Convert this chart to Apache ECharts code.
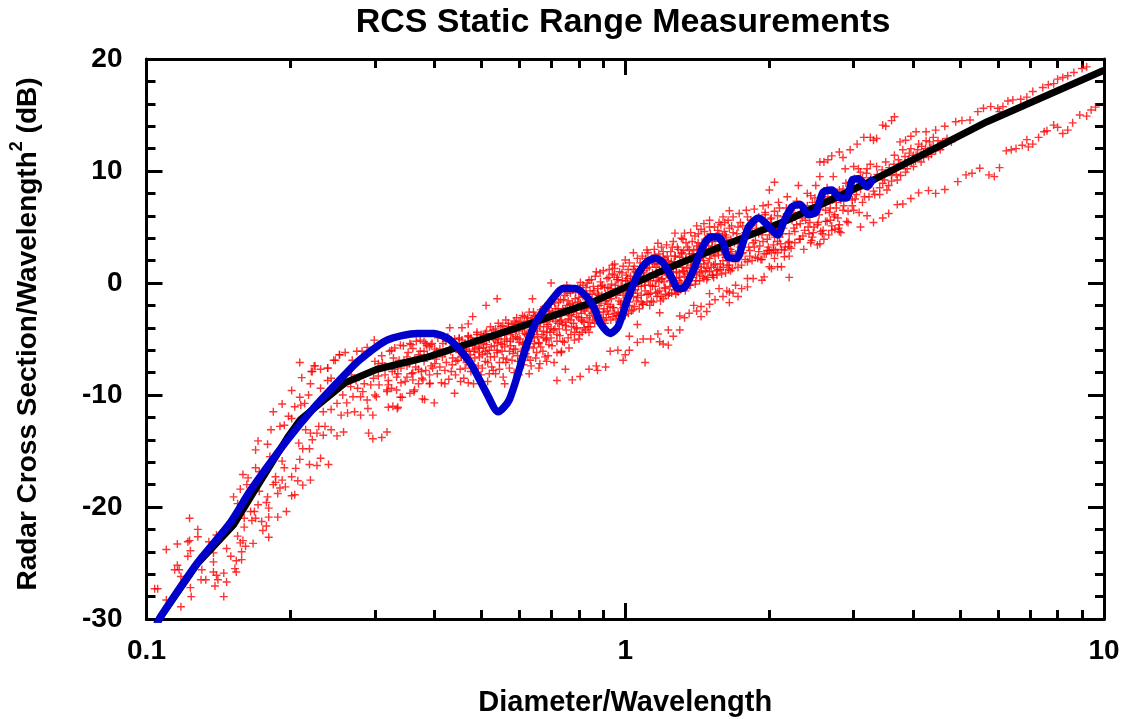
<!DOCTYPE html>
<html>
<head>
<meta charset="utf-8">
<title>RCS Static Range Measurements</title>
<script src="https://cdn.jsdelivr.net/npm/echarts@6/dist/echarts.min.js"></script>
<style>
  html, body { margin: 0; padding: 0; background: #fff; }
  #chart { width: 1123px; height: 719px; }
</style>
</head>
<body>
<div id="chart"></div>
<script>
// values: [diameter/wavelength, dB]
const blackCurve = [[0.105,-30.5],[0.107,-29.8],[0.128,-25],[0.152,-21.6],[0.167,-18.75],[0.197,-13.8],[0.2096,-12.2],[0.26,-8.9],[0.303,-7.7],[0.388,-6.6],[0.634,-3.6],[0.845,-1.8],[1.24,1.4],[1.66,3.6],[2.18,5.6],[3.3,9.2],[5.7,14.4],[10,19]];
const blueCurve = [[0.105,-30.5],[0.107,-29.8],[0.1277,-25],[0.1496,-21.4],[0.165,-18.5],[0.197,-14],[0.223,-11.2],[0.262,-8],[0.28,-6.8],[0.318,-5.1],[0.368,-4.5],[0.398,-4.5],[0.431,-5.1],[0.474,-7.1],[0.51,-9.6],[0.543,-11.5],[0.573,-10.4],[0.624,-5.4],[0.655,-3.3],[0.721,-0.9],[0.743,-0.5],[0.787,-0.5],[0.833,-1.3],[0.865,-2.4],[0.887,-3.6],[0.93,-4.5],[0.966,-3.9],[1.01,-1.5],[1.06,0.7],[1.11,1.9],[1.156,2.2],[1.2,1.8],[1.25,0.5],[1.29,-0.5],[1.33,-0.4],[1.39,1.2],[1.45,3.2],[1.51,4.1],[1.56,4.1],[1.6,3.6],[1.64,2.3],[1.71,2.2],[1.75,3.2],[1.81,5],[1.9,5.8],[1.98,5.2],[2.08,4.3],[2.14,5.4],[2.23,6.8],[2.32,7],[2.41,6.1],[2.5,6.3],[2.59,8.1],[2.7,8.3],[2.81,7.6],[2.9,7.6],[2.98,9.2],[3.07,9.3],[3.2,8.6],[3.3,9.4]];

const scatterLowEnd = [[0.104,-27.3],[0.1055,-27.3],[0.11,-23.8],[0.116,-23.3],[0.1145,-25.6],[0.116,-25.2],[0.117,-25.6],[0.118,-26.2],[0.118,-28.9],[0.11,-28.3],[0.123,-21],[0.122,-23.1],[0.123,-23],[0.1235,-23.9],[0.122,-24.4],[0.128,-22],[0.128,-22.65],[0.135,-23.1],[0.131,-24.3],[0.1235,-27.2],[0.124,-28],[0.1305,-25.6],[0.13,-26.5],[0.133,-26.5],[0.138,-25.8],[0.14,-26.1],[0.138,-24.9],[0.138,-24.1],[0.141,-26.5],[0.139,-27.05],[0.145,-25.9],[0.147,-26.7],[0.145,-28],[0.14,-22.5],[0.147,-23.7],[0.15,-24.4],[0.154,-24.8],[0.153,-25.5],[0.154,-25.8],[0.155,-22.6],[0.158,-24.7],[0.158,-24],[0.157,-23.2],[0.159,-23],[0.161,-23.5],[0.167,-23.25],[0.18,-22.7]];
const scatterRise = [[0.152,-19.1],[0.155,-19.7],[0.157,-18.4],[0.159,-17.1],[0.163,-17.4],[0.162,-18],[0.16,-21],[0.16,-21.8],[0.165,-20.4],[0.168,-20.4],[0.166,-21.2],[0.169,-21],[0.174,-21.3],[0.175,-22.1],[0.178,-21.7],[0.171,-19.8],[0.179,-19.1],[0.178,-19.6],[0.18,-20.1],[0.18,-20.9],[0.188,-20.9],[0.196,-20.4],[0.172,-18.6],[0.169,-16.5],[0.172,-16.85],[0.186,-17.3],[0.184,-18],[0.186,-17.8],[0.192,-17.6],[0.19,-18.3],[0.188,-18.8],[0.195,-18.2],[0.201,-17.3],[0.207,-17.65],[0.212,-18.05],[0.22,-17.6],[0.201,-19],[0.204,-18.9],[0.194,-16.5],[0.205,-16.55],[0.219,-16.2],[0.227,-16.3],[0.24,-16.2],[0.231,-15.65],[0.209,-15.75],[0.192,-15.9],[0.181,-15.5],[0.169,-14.9],[0.171,-14.1],[0.179,-14.4],[0.182,-13.1],[0.19,-12.8],[0.194,-12.7],[0.184,-11.5],[0.192,-10.8],[0.201,-9.6]];
const scatterKnee = [[0.209,-7.1],[0.211,-8.45],[0.204,-11.05],[0.21,-10.9],[0.214,-10.75],[0.218,-10],[0.221,-7.9],[0.224,-7.4],[0.231,-7.7],[0.239,-7.6],[0.248,-6.9],[0.253,-6.4],[0.26,-6.2],[0.22,-9],[0.231,-9.4],[0.239,-8.7],[0.243,-8.5],[0.209,-10.2],[0.198,-11.9],[0.201,-12.1],[0.208,-14.3],[0.212,-14.8],[0.219,-14.8],[0.222,-14],[0.227,-13.4],[0.229,-12.8],[0.22,-13.4],[0.234,-13.6],[0.243,-13.1],[0.258,-13.3],[0.25,-13.65],[0.236,-12.8],[0.215,-13.1],[0.234,-11.5],[0.243,-11.3],[0.255,-11.8],[0.263,-11.6],[0.272,-11.5],[0.28,-11.8],[0.29,-11.2],[0.297,-11.8],[0.32,-11.1],[0.334,-11.2],[0.291,-13.4],[0.297,-13.9],[0.31,-13.8],[0.318,-13.3],[0.25,-10.75],[0.257,-10],[0.27,-10.15],[0.28,-10.15],[0.289,-10.45],[0.267,-9.25],[0.276,-9.4],[0.285,-9],[0.302,-10.15],[0.318,-9.7],[0.333,-9.55],[0.342,-10.2],[0.362,-9.7],[0.381,-10.4],[0.37,-9],[0.36,-8.65],[0.383,-7.8],[0.39,-9],[0.298,-8.5],[0.306,-9.1],[0.32,-9.1],[0.35,-8.4],[0.335,-8.1],[0.225,-7.4],[0.222,-7.9],[0.239,-7.6],[0.246,-6.9],[0.253,-6.4],[0.269,-6.9],[0.275,-6.1],[0.282,-6.1],[0.289,-5.75],[0.299,-5.1],[0.311,-7.15],[0.305,-7.2],[0.328,-6.7],[0.355,-5.4],[0.373,-5.1],[0.38,-5.25],[0.39,-5.7],[0.404,-6.1],[0.36,-5.85],[0.339,-5.55],[0.325,-6],[0.339,-10.2],[0.355,-9.85],[0.325,-9.4],[0.318,-9.55],[0.363,-9.55],[0.377,-10.35],[0.391,-8.95],[0.399,-10.7],[0.378,-8.65],[0.35,-7.4],[0.327,-11],[0.335,-11.1],[0.3,-10],[0.315,-8.2],[0.345,-7],[0.352,-6.2],[0.365,-7.5],[0.37,-6.4],[0.375,-7.9],[0.385,-5.6],[0.33,-7.7],[0.34,-8.9],[0.358,-8.1],[0.393,-7.4],[0.38,-6.1],[0.235,-10.2],[0.245,-9.6],[0.252,-8.8],[0.262,-10.7],[0.268,-8.2],[0.274,-8.7],[0.283,-9.7],[0.294,-9.1],[0.3,-7],[0.305,-8.3],[0.31,-6.5],[0.315,-7.4],[0.32,-8.7],[0.322,-6.1],[0.326,-7.9],[0.33,-5.8],[0.333,-8.4],[0.337,-6.9],[0.34,-7.6],[0.344,-5.6],[0.347,-8.8],[0.35,-6.6],[0.354,-7.2],[0.357,-5.5],[0.36,-8],[0.363,-6.8],[0.366,-5.2],[0.37,-7.7],[0.373,-6.1],[0.376,-8.5],[0.38,-7],[0.383,-5.4],[0.386,-6.4],[0.39,-8.2],[0.393,-5.5],[0.396,-7.6]];
const scatterBandLow = [[0.395,-5.4],[0.4,-7.2],[0.405,-8.1],[0.41,-5.9],[0.415,-6.6],[0.42,-7.8],[0.422,-5.2],[0.428,-8.6],[0.432,-6.1],[0.435,-7.3],[0.44,-5.6],[0.442,-8.2],[0.447,-6.9],[0.45,-4.9],[0.452,-7.7],[0.456,-6.3],[0.46,-8.5],[0.463,-5.4],[0.466,-7.1],[0.47,-4.7],[0.472,-6.1],[0.476,-7.9],[0.48,-5.6],[0.482,-9],[0.485,-6.7],[0.49,-4.4],[0.493,-7.4],[0.496,-5.8],[0.5,-8.2],[0.503,-6.4],[0.506,-4.7],[0.51,-7],[0.513,-5.5],[0.516,-8.8],[0.52,-6],[0.523,-3.9],[0.526,-7.5],[0.53,-4.9],[0.533,-6.6],[0.536,-8.1],[0.54,-5.3],[0.543,-3.6],[0.546,-7.1],[0.55,-4.6],[0.553,-6.1],[0.556,-8.4],[0.56,-5],[0.563,-3.3],[0.566,-6.8],[0.57,-4.2],[0.573,-7.6],[0.576,-5.6],[0.58,-3.7],[0.583,-6.3],[0.586,-8],[0.59,-4.8],[0.593,-3.1],[0.596,-7],[0.6,-5.3],[0.603,-3.9],[0.606,-6.1],[0.61,-2.9],[0.613,-7.3],[0.616,-4.5],[0.62,-5.7],[0.623,-3.4],[0.626,-6.6],[0.63,-2.6],[0.633,-4.9],[0.636,-7.4],[0.64,-3.9],[0.643,-5.8],[0.646,-2.9],[0.65,-6.7],[0.653,-4.3],[0.656,-3.2],[0.66,-5.3],[0.663,-7.2],[0.666,-2.4],[0.67,-4.6],[0.673,-6.1],[0.676,-3.5],[0.68,-2.1],[0.683,-5.1],[0.686,-3.9],[0.69,-6.5],[0.693,-2.7],[0.696,-4.4],[0.7,-1.9],[0.703,-5.6],[0.706,-3.2],[0.71,-7.1],[0.713,-4.1],[0.716,-2.3],[0.72,-5.2],[0.723,-3.6],[0.43,-4],[0.456,-4],[0.47,-3.65],[0.48,-3],[0.512,-2],[0.54,-1.4],[0.64,-1.4],[0.7,0],[0.755,-0.2],[0.806,0.05],[0.84,0.25]];
const scatterBandLowFill = [[0.4,-5.9],[0.403,-6.8],[0.406,-4.9],[0.41,-7.5],[0.413,-8.9],[0.416,-5.4],[0.42,-6.3],[0.423,-7.1],[0.426,-4.8],[0.43,-5.9],[0.433,-7.9],[0.436,-6.7],[0.44,-5],[0.443,-7],[0.446,-5.7],[0.45,-6.2],[0.453,-8.8],[0.456,-5.1],[0.46,-6.7],[0.463,-7.6],[0.466,-5.9],[0.47,-5.3],[0.473,-6.9],[0.476,-4.9],[0.48,-7.3],[0.483,-6.1],[0.486,-5.2],[0.49,-8],[0.493,-5.7],[0.496,-6.6],[0.5,-4.6],[0.503,-7.6],[0.506,-5.4],[0.51,-6.1],[0.513,-4.3],[0.516,-7.1],[0.52,-5],[0.523,-6.6],[0.526,-4.6],[0.53,-7.8],[0.533,-5.6],[0.536,-4.1],[0.54,-6.2],[0.543,-5],[0.546,-7.7],[0.55,-3.9],[0.553,-5.5],[0.556,-6.7],[0.56,-4.4],[0.563,-7.1],[0.566,-5.2],[0.57,-3.6],[0.573,-6.1],[0.576,-4.6],[0.58,-6.9],[0.583,-5],[0.586,-3.4],[0.59,-5.9],[0.593,-4.2],[0.596,-6.5],[0.6,-3.5],[0.603,-5],[0.606,-7],[0.61,-4.1],[0.613,-5.5],[0.616,-3],[0.62,-6.3],[0.623,-4.6],[0.626,-3.7],[0.63,-5.2],[0.633,-6.9],[0.636,-3.2],[0.64,-4.6],[0.643,-2.6],[0.646,-5.4],[0.65,-3.6],[0.653,-6.2],[0.656,-4.8],[0.66,-2.9],[0.663,-3.9],[0.666,-5.7],[0.67,-3.3],[0.673,-2.3],[0.676,-4.9],[0.68,-6.6],[0.683,-3.1],[0.686,-4.4],[0.69,-2.2],[0.693,-5.5],[0.696,-3.4],[0.7,-4.9],[0.704,-2.6],[0.708,-4.2],[0.712,-1.8],[0.716,-3.4],[0.72,-6.2],[0.724,-2.3],[0.728,-4.1],[0.732,-1.5],[0.736,-3.3],[0.74,-5.2],[0.744,-2.5],[0.748,-1.1],[0.752,-3.5],[0.756,-2],[0.76,-4.9],[0.764,-2.9],[0.768,-0.9],[0.772,-3.9],[0.776,-1.8],[0.78,-2.6],[0.784,-4.4],[0.788,-0.8],[0.792,-3],[0.796,-1.7],[0.8,-5],[0.804,-0.6],[0.808,-2.4],[0.812,-3.4],[0.816,-1.2],[0.82,-4],[0.824,-2.5],[0.828,-0.4],[0.832,-3.1],[0.836,-1.2],[0.84,-4.4],[0.844,-0.7],[0.848,-2.3]];
const scatterBandCoreLow = [[0.45,-5],[0.455,-6.6],[0.46,-5.6],[0.465,-6.1],[0.47,-4.8],[0.475,-6.4],[0.48,-5.2],[0.485,-5.9],[0.49,-4.6],[0.495,-6.2],[0.5,-5.3],[0.505,-5.8],[0.51,-4.5],[0.515,-6.3],[0.52,-4.9],[0.525,-5.7],[0.53,-4.2],[0.535,-5.1],[0.54,-6],[0.545,-4.6],[0.55,-5.4],[0.555,-3.8],[0.56,-5.7],[0.565,-4.5],[0.57,-3.9],[0.575,-5.2],[0.58,-4.4],[0.585,-5.9],[0.59,-3.6],[0.595,-4.9],[0.6,-4.3],[0.605,-3.4],[0.61,-5.4],[0.615,-3.9],[0.62,-4.6],[0.625,-3.1],[0.63,-5.7],[0.635,-4.2],[0.64,-3.4],[0.645,-4.9],[0.65,-3],[0.655,-4.1],[0.66,-5.4],[0.665,-3.5],[0.67,-2.7],[0.675,-4.3],[0.68,-3.1],[0.685,-5],[0.69,-3.7],[0.695,-2.5],[0.7,-4.1],[0.71,-2.8],[0.72,-4.6],[0.73,-3.4],[0.74,-2.3],[0.75,-3.8],[0.76,-1.6],[0.77,-3.3],[0.78,-2.1],[0.79,-4],[0.8,-1.3],[0.81,-3.3],[0.82,-2.3],[0.83,-1],[0.84,-3.5],[0.85,-2.2]];
const scatterBandMid = [[0.726,-1.7],[0.73,-4.7],[0.733,-2.9],[0.736,-6.1],[0.74,-3.7],[0.743,-1.5],[0.746,-5.3],[0.75,-2.4],[0.753,-4.2],[0.756,-0.9],[0.76,-3.2],[0.763,-5.8],[0.766,-1.9],[0.77,-4.6],[0.773,-2.8],[0.776,-0.6],[0.78,-3.6],[0.783,-5.1],[0.786,-1.4],[0.79,-2.3],[0.793,-4.1],[0.796,-0.4],[0.8,-3.1],[0.803,-4.6],[0.806,-1.8],[0.81,-2.7],[0.813,-4.4],[0.816,-0.2],[0.82,-3.5],[0.823,-1.2],[0.826,-4.2],[0.83,-2.2],[0.833,0],[0.836,-3.9],[0.84,-1.6],[0.843,-2.9],[0.846,-3.9],[0.85,0.3],[0.853,-1],[0.856,-3.3],[0.86,-2.1],[0.863,-3.6],[0.866,0.6],[0.87,-1.4],[0.873,-3.2],[0.876,-0.5],[0.88,-2.6],[0.883,-3.4],[0.886,0.9],[0.89,-1.8],[0.893,-3.1],[0.896,-0.2],[0.9,1.1],[0.903,-2.3],[0.906,-3.6],[0.91,-1],[0.913,-3.1],[0.916,0.4],[0.92,-1.9],[0.923,-2.8],[0.926,1.2],[0.93,-0.5],[0.933,-3.3],[0.936,-1.4],[0.94,0.8],[0.943,-3],[0.946,-2.2],[0.95,1.3],[0.953,-0.2],[0.956,-3.2],[0.96,-1.1],[0.963,0.5],[0.966,-2.6],[0.97,-2.9],[0.973,1],[0.976,-0.7],[0.98,-1.7],[0.983,-2.8],[0.986,0.2],[0.99,1.5],[0.993,-2.3],[0.996,-0.4],[1,-2.9],[1.005,0.7],[1.01,-1.3],[1.015,-2.7],[1.02,1.8],[1.025,0.1],[1.03,-2.5],[1.035,-0.9],[1.04,1.2],[1.045,-2.1],[1.05,0.4],[1.055,-1.6],[1.06,2.2],[1.065,-0.3],[1.07,-2.3],[1.075,1],[1.08,-1.1],[1.085,2.4],[1.09,-1.9],[1.095,0.6],[1.1,-0.7],[1.105,1.6],[1.11,-1.7],[1.115,2.7],[1.12,0.2],[1.125,-2],[1.13,-0.9],[1.135,2.1],[1.14,0.9],[1.145,-1.7],[1.15,3],[1.155,-0.3],[1.16,1.4],[1.165,-1.2],[1.17,0.5],[1.175,2.6],[1.18,-0.7],[1.185,-1.6],[1.19,3.2],[1.195,1.1],[1.2,-1.4],[1.205,0.1],[1.21,2.1],[1.215,-1],[1.22,3.4],[1.225,0.7],[1.23,-1.1],[1.235,1.6],[1.24,-0.3],[1.245,2.8],[1.25,-0.9],[1.255,0.3],[1.26,3.7],[1.265,1.9],[1.27,-0.6],[1.275,-1],[1.28,1],[1.285,3.2],[1.29,-0.8],[1.295,0.2],[1.3,2.3],[1.305,-0.6],[1.31,4],[1.315,1.4],[1.32,-0.4],[1.325,2.9],[1.33,0.6],[1.335,-0.7],[1.34,3.6],[1.345,0.1],[1.35,1.9],[1.36,-0.2],[1.37,4.5],[1.38,2.6],[1.39,0.8],[1.4,-0.1],[1.41,3.3],[1.42,1.5],[1.43,0.2],[1.44,4.8],[1.45,2.3],[1.46,0.4],[1.47,3.9],[1.48,0.3],[1.49,1.8],[1.5,5],[1.51,3],[1.52,0.7],[1.53,0.5],[1.54,2.4],[1.55,4.2],[1.56,1.2],[1.57,5.4],[1.58,3.4],[1.59,0.8],[1.6,2],[1.61,4.6],[1.62,0.9],[1.63,3.1],[1.64,5.6],[1.65,1.6],[1.66,1.1],[1.67,2.8],[0.87,1],[0.94,1.6],[0.95,1.7],[1,2.05],[1.04,2.7],[1.11,2.95],[1.17,3.55],[1.27,4.45],[1.33,4.45],[1.41,5.1],[1.46,5.3],[1.5,5.6],[1.6,5.9],[1.65,6.45]];
const scatterBandMidFill = [[0.852,-2.7],[0.858,-0.3],[0.864,-1.7],[0.87,-3.1],[0.876,-0.9],[0.882,-2],[0.888,0.1],[0.894,-1.1],[0.9,-3.3],[0.906,-0.4],[0.912,-1.6],[0.918,-2.5],[0.924,0.5],[0.93,-1.2],[0.936,-0.1],[0.942,-2.2],[0.948,0.7],[0.954,-1],[0.96,-2.9],[0.966,0.3],[0.972,-0.6],[0.978,-1.9],[0.984,0.9],[0.99,-1.1],[0.996,-2.8],[1.002,0.2],[1.008,-0.6],[1.014,1.2],[1.02,-1.7],[1.026,0.6],[1.032,-0.2],[1.038,-2.4],[1.044,1.5],[1.05,-0.6],[1.056,0.9],[1.062,-1.3],[1.068,0.2],[1.074,1.8],[1.08,-0.3],[1.086,-1.9],[1.092,1.1],[1.098,0.1],[1.104,2.2],[1.11,-1],[1.116,0.5],[1.122,1.4],[1.128,-0.2],[1.134,-1.6],[1.14,1.8],[1.146,0.5],[1.152,2.5],[1.158,-0.9],[1.164,0.9],[1.17,1.7],[1.176,0.1],[1.182,2.2],[1.188,-1.2],[1.194,0.4],[1.2,2.8],[1.206,1.3],[1.212,-0.4],[1.218,0.8],[1.224,2.4],[1.23,1.1],[1.236,-0.9],[1.242,0.5],[1.248,1.9],[1.254,3.2],[1.26,0.9],[1.266,-0.3],[1.272,2.4],[1.278,1.4],[1.284,-0.7],[1.29,3],[1.296,0.9],[1.302,1.7],[1.308,0],[1.314,2.7],[1.32,3.9],[1.326,1],[1.332,-0.4],[1.338,2.1],[1.344,1.3],[1.35,3.2],[1.356,0.5],[1.362,2.6],[1.368,-0.2],[1.374,1.6],[1.38,3.7],[1.386,1.2],[1.392,2.2],[1.398,4.2],[1.404,0.2],[1.41,1.9],[1.416,3],[1.422,4.4],[1.428,0.9],[1.434,2.5],[1.44,1.4],[1.446,3.5],[1.452,0.6],[1.458,2],[1.464,4.6],[1.47,1.1],[1.476,2.9],[1.482,4],[1.488,0.5],[1.494,3.3],[1.5,2.2],[1.506,4.4],[1.512,1.4],[1.518,3.7],[1.524,0.7],[1.53,2.7],[1.536,5],[1.542,1.7],[1.548,3.1],[1.554,0.7],[1.56,4.7],[1.566,2.5],[1.572,3.7],[1.578,1.2],[1.584,5.2],[1.59,2.9],[1.596,4.2],[1.602,1.4],[1.608,3.4],[1.614,5.4],[1.62,2.3],[1.626,4.1],[1.632,1.6],[1.638,3.5],[1.644,1.2],[1.65,4.9],[1.656,2.4],[1.662,3.9],[1.668,5.1],[1.674,1.3]];
const scatterBandCoreMid = [[0.86,-0.7],[0.87,-2.5],[0.88,-1.1],[0.89,-0.3],[0.9,-2.6],[0.91,-1.6],[0.92,-0.4],[0.93,-2.1],[0.94,-0.9],[0.95,-2.7],[0.96,0.3],[0.97,-1.6],[0.98,-0.3],[0.99,-2.2],[1,-0.9],[1.01,0.4],[1.02,-2],[1.03,-0.4],[1.04,-1.2],[1.05,1],[1.06,-0.9],[1.07,0.3],[1.08,-1.7],[1.09,0.9],[1.1,-0.2],[1.11,1.3],[1.12,-1],[1.13,0.6],[1.14,-0.3],[1.15,1.7],[1.16,0.2],[1.17,-0.8],[1.18,1.2],[1.19,0.3],[1.2,2.3],[1.21,-0.5],[1.22,0.9],[1.23,2],[1.24,0.2],[1.25,1.3],[1.26,-0.2],[1.27,2.4],[1.28,0.4],[1.29,1.7],[1.3,0.5],[1.31,2.6],[1.32,1.1],[1.33,-0.1],[1.34,2.2],[1.35,0.8],[1.36,3],[1.37,1.4],[1.38,0.5],[1.39,2.9],[1.4,1.8],[1.41,0.7],[1.42,3.6],[1.43,2.2],[1.44,1],[1.45,3.4],[1.46,1.7],[1.47,2.7],[1.48,1.3],[1.49,4.1],[1.5,1],[1.51,2.5],[1.52,3.7],[1.53,1.6],[1.54,3.2],[1.55,1.1],[1.56,2.9],[1.57,4.4],[1.58,1.7],[1.59,3.8],[1.6,2.8],[1.62,4.3],[1.64,2],[1.66,3],[1.68,4.5],[1.7,1.9],[1.72,3.5],[1.74,5.4],[1.76,2.7],[1.78,4],[1.8,5.9],[1.82,2.4],[1.84,4.4],[1.86,3.2],[1.88,5.7],[1.9,2.8],[1.92,4.7],[1.94,3.7],[1.96,6.3],[1.98,2.9],[2,4.3],[2.02,5.8],[2.04,3],[2.06,4.8],[2.08,3.7],[2.1,6.7],[2.13,4.4],[2.16,5.4],[2.19,3.6],[2.22,6.5],[2.25,4.9],[2.28,7.3],[2.31,3.9],[2.34,5.8],[2.37,4.7],[2.4,6.9],[2.43,5.4],[2.46,4.1],[2.49,7.6],[2.52,5.2],[2.55,6.6],[2.58,4.4],[2.61,7.2],[2.64,5.5],[2.67,6.3],[2.7,8],[2.73,5.9],[2.76,6.7],[2.79,4.9],[2.82,7.4],[2.85,8.4]];
const scatterBandHigh = [[1.68,5.9],[1.7,2.6],[1.71,4.4],[1.72,1.4],[1.73,6.2],[1.74,3.2],[1.75,1.6],[1.76,5.1],[1.77,3.9],[1.78,2.1],[1.79,6.5],[1.8,1.9],[1.81,4.6],[1.82,2.9],[1.83,5.6],[1.84,2],[1.85,3.6],[1.86,6.6],[1.87,2.3],[1.88,4.9],[1.89,2.2],[1.9,5.9],[1.91,3.3],[1.92,2.1],[1.93,4.3],[1.94,6.9],[1.95,2.6],[1.96,5.3],[1.97,2.6],[1.98,3.9],[1.99,7],[2,2.9],[2.01,5.7],[2.02,2.7],[2.03,4.6],[2.04,3.4],[2.05,6.4],[2.06,2.9],[2.07,5],[2.08,2.7],[2.09,7.2],[2.1,4.1],[2.12,3],[2.14,5.9],[2.16,3.2],[2.18,7.7],[2.2,4.4],[2.22,3.1],[2.24,6.3],[2.26,3.6],[2.28,5.2],[2.3,8.7],[2.32,3.9],[2.34,6.9],[2.36,3],[2.38,5.6],[2.4,8],[2.42,4.4],[2.44,3.6],[2.46,7.2],[2.48,5],[2.5,8.7],[2.52,3.4],[2.54,6.1],[2.56,4.6],[2.58,7.6],[2.6,3.9],[2.62,5.5],[2.64,8.5],[2.66,4.3],[2.68,6.7],[2.7,5.1],[2.72,9.5],[2.74,4.8],[2.76,7.2],[2.78,5.8],[2.8,8.3],[2.82,4.5],[2.85,6.5],[2.88,10.2],[2.9,7.8],[2.92,5.4],[2.95,9],[2.98,6.9],[3,10.4],[3.02,7.5],[3.05,8.6],[3.08,6.3],[3.1,9.9],[3.13,7.2],[3.16,8.9],[3.2,10.2],[3.23,7.7],[3.26,9.4],[3.3,8.2],[3.35,10.4],[3.4,7.9],[3.45,8.9],[3.5,10.8],[3.55,8.7],[3.6,9.6],[3.65,11.4],[3.7,9.2],[3.75,10.6],[3.8,11.9],[3.85,9.9],[3.9,11],[3.95,12],[4,10.4],[4.05,11.4],[4.1,12.4],[4.15,10.8],[4.2,11.7],[4.25,12.7],[4.3,11.3],[4.35,12.1],[4.4,13],[4.5,12.2],[4.55,11.9],[4.6,12.6],[4.7,12.9],[4.8,12.6],[2.05,9],[2,8.3],[2.55,9.5],[3,6.5],[2.9,5.5],[2.8,4.6],[2.7,4.7],[2.55,3.5],[2.45,3.8]];
const scatterBandHighFill = [[1.69,3.6],[1.72,5],[1.75,2.6],[1.78,4.5],[1.81,3.2],[1.84,5.1],[1.87,3.8],[1.9,4.4],[1.93,2.1],[1.96,6.1],[1.99,3.2],[2.02,5.2],[2.05,4.1],[2.08,6],[2.11,3.5],[2.14,4.9],[2.17,6.7],[2.2,3.7],[2.23,5.6],[2.26,4.6],[2.29,7],[2.32,5.3],[2.35,4.2],[2.38,6.4],[2.41,5],[2.44,7.8],[2.47,4.5],[2.5,6.3],[2.53,5.4],[2.56,7],[2.59,4.7],[2.62,6.5],[2.65,7.7],[2.68,5.6],[2.71,7.4],[2.74,6.1],[2.77,8.1],[2.8,5.2],[2.83,7.7],[2.86,6.9],[2.89,8.9],[2.92,6.4],[2.95,8.2],[2.98,7.4],[3.01,9.3],[3.04,7.9],[3.07,10.2],[3.1,8.4],[3.13,9.4],[3.16,7.7],[3.19,9.8],[3.22,8.6],[3.25,10.6],[3.28,9],[3.32,7.9],[3.36,9.7],[3.4,8.5],[3.44,10.1],[3.48,9.2],[3.52,8.3],[3.56,10.3],[3.6,9.1],[3.64,10.6],[3.68,9.7],[3.72,11],[3.76,9.6],[3.8,10.5],[3.84,11.3],[3.88,10.2],[3.92,11.6],[3.96,10.8],[4,11.4],[4.04,10.9],[4.08,11.9],[4.12,11.2],[4.16,12.2],[4.2,11.2],[4.24,12],[4.28,11.7],[4.32,12.6],[4.36,11.5],[4.4,12.2],[4.45,11.8],[4.5,12.7],[4.6,12.2]];
const scatterUpperStreak = [[9.2,19.3],[9,19.15],[8.65,18.8],[8.4,18.5],[8.2,18.35],[8,18.2],[7.85,17.8],[7.65,17.7],[7.45,17.45],[7.1,17.1],[6.9,16.6],[6.7,16.4],[6.45,16.35],[6.3,16.25],[6.15,15.75],[5.8,15.75],[5.6,15.6],[5.45,15.3],[6,15.6],[6.05,15.3],[5.25,14.55],[5.05,14.5],[4.9,14.4],[4.65,14],[4.45,13.65],[4.25,13.5],[4.05,13.5],[3.95,13.1],[3.85,12.75],[3.75,12.6],[3.65,14.85],[3.6,14.5],[3.5,14],[3.45,14.1],[3.35,12.9],[3.3,12.75],[3.25,13],[3.15,13],[3.05,12.4],[2.95,11.9],[2.85,11.2],[2.8,11.7],[2.7,11.35],[2.65,11],[2.6,10.8],[2.55,10.8]];
const scatterLowerStreak = [[9.6,15.7],[9.4,15.45],[9.2,14.9],[8.9,15],[8.6,14.3],[8.4,13.65],[8.2,13.35],[8,13.9],[7.85,14.1],[7.6,13.6],[7.5,13.5],[7.3,13],[7.1,12.4],[6.95,12.15],[6.9,12.8],[6.75,12.3],[6.55,12],[6.4,11.9],[6.25,11.8],[6.05,10.3],[5.9,9.5],[5.75,9.65],[5.5,10.25],[5.3,9.8],[5.15,9.65],[4.95,9.05],[4.65,8.35],[4.45,8],[4.3,8.25],[4.1,8.05],[3.95,7.55],[3.8,7.05],[3.7,7],[3.55,6.2],[3.45,5.8],[3.3,5.4],[3.2,6],[3.1,5],[2.2,0.5],[2,1.45],[1.95,0.55],[1.85,0.4],[1.8,0.4],[1.75,-0.5],[1.7,-0.2],[1.8,-0.35],[1.68,-0.9],[1.65,-0.8],[1.72,-1.2],[2.05,2.2],[2.15,2.35],[2.12,1.45],[2.08,1.45],[2.02,1.3],[1.93,0.25],[2.2,2.4],[2.15,2.95],[2.2,3.25]];
const scatterOutliers = [[0.44,-9.85],[0.47,-8.9],[0.42,-9],[0.52,-8.1],[0.56,-9],[0.6,-8.2],[0.63,-8.1],[0.66,-7.6],[0.685,-7],[0.735,-6.2],[0.72,-8.7],[0.75,-7.7],[0.775,-8.65],[0.805,-8.35],[0.84,-7.7],[0.87,-7.4],[0.875,-7.8],[0.91,-7.5],[0.93,-6.1],[0.965,-6],[1,-6.4],[0.99,-6.9],[1.02,-6],[1.1,-7.1],[1.02,-4.75],[1.06,-5.3],[1.09,-5],[1.13,-5],[1.17,-4.55],[1.18,-5.25],[1.2,-5.45],[1.23,-5.55],[1.23,-4.2],[1.26,-4.75],[1.3,-4.2],[1.06,-3.7],[1.18,-2.65],[1.3,-2.95],[1.33,-3.1],[1.36,-2.7],[1.41,-2.5],[1.44,-3],[1.44,-2.1],[1.48,-2.55],[1.39,-2],[1.5,-1.9],[1.54,-1.5],[1.6,-1.2],[1.65,-1.75],[1.5,-0.95],[1.57,-0.5],[1.63,-0.7]];

const xMajorTicks = [0.1, 1, 10];
const xMinorTicks = [0.2,0.3,0.4,0.5,0.6,0.7,0.8,0.9,2,3,4,5,6,7,8,9];
const titleText = 'RCS Static Range Measurements';
const xName = 'Diameter/Wavelength';

const fontFamily = '"Liberation Sans", Arial, sans-serif';
const scatterData = [].concat(scatterLowEnd, scatterRise, scatterKnee, scatterBandLow, scatterBandLowFill, scatterBandCoreLow, scatterBandMid, scatterBandMidFill, scatterBandCoreMid, scatterBandHigh, scatterBandHighFill, scatterUpperStreak, scatterLowerStreak, scatterOutliers);

function xAxisOf(position, ticks, tickLen, labels, name) {
  return {
    type: 'log', logBase: 10, min: 0.1, max: 10, position: position,
    name: name || '', nameLocation: 'middle', nameGap: 69,
    nameTextStyle: { fontFamily: fontFamily, fontWeight: 'bold', fontSize: 29, color: '#000' },
    axisLine: { show: true, onZero: false, lineStyle: { color: '#000', width: 3 } },
    axisTick: { show: true, inside: true, length: tickLen, lineStyle: { color: '#000', width: 3 }, customValues: ticks },
    axisLabel: labels ? { show: true, margin: 18, fontFamily: fontFamily, fontWeight: 'bold', fontSize: 28, color: '#000', customValues: xMajorTicks, formatter: function (v) { return String(v); } } : { show: false },
    splitLine: { show: false }, minorSplitLine: { show: false }
  };
}

function yAxisOf(position, labels) {
  return {
    type: 'value', min: -30, max: 20, interval: 10, position: position,
    name: labels ? '{b|Radar Cross Section/Wavelength}{s|2}{b| (dB)}' : '',
    nameLocation: 'middle', nameGap: 104, nameRotate: 90,
    nameTextStyle: {
      padding: [0, 0, 0, 10],
      rich: {
        b: { fontFamily: fontFamily, fontWeight: 'bold', fontSize: 28, color: '#000', verticalAlign: 'bottom', lineHeight: 34 },
        s: { fontFamily: fontFamily, fontWeight: 'bold', fontSize: 18, color: '#000', verticalAlign: 'top', lineHeight: 34 }
      }
    },
    axisLine: { show: true, onZero: false, lineStyle: { color: '#000', width: 3 } },
    axisTick: { show: true, inside: true, length: 16, lineStyle: { color: '#000', width: 3 } },
    minorTick: { show: true, splitNumber: 5, length: 9, lineStyle: { color: '#000', width: 3 } },
    axisLabel: labels ? { show: true, margin: 24, fontFamily: fontFamily, fontWeight: 'bold', fontSize: 28, color: '#000' } : { show: false },
    splitLine: { show: false }
  };
}

const chart = echarts.init(document.getElementById('chart'), null, { renderer: 'canvas' });
chart.setOption({
  animation: false,
  backgroundColor: '#fff',
  title: {
    text: titleText, left: 618, top: 1, textAlign: 'center',
    textStyle: { fontFamily: fontFamily, fontWeight: 'bold', fontSize: 34, color: '#000' }
  },
  grid: { left: 146.5, right: 19, top: 59, bottom: 100, outerBoundsMode: 'none' },
  xAxis: [
    xAxisOf('bottom', xMajorTicks, 16, true, xName),
    xAxisOf('bottom', xMinorTicks, 9, false),
    xAxisOf('top', xMajorTicks, 16, false),
    xAxisOf('top', xMinorTicks, 9, false)
  ],
  yAxis: [yAxisOf('left', true), yAxisOf('right', false)],
  series: [
    {
      name: 'Measurements', type: 'scatter', data: scatterData,
      symbol: 'path://M3.3 0h1.4v8h-1.4z M0 3.3h8v1.4h-8z', symbolSize: 8,
      itemStyle: { color: '#ff0000' }, z: 2
    },
    {
      name: 'Black', type: 'line', data: blackCurve, showSymbol: false, symbol: 'none',
      lineStyle: { color: '#000', width: 7 }, z: 3
    },
    {
      name: 'Blue', type: 'line', data: blueCurve, showSymbol: false, symbol: 'none', smooth: 0.25,
      lineStyle: { color: '#0000cc', width: 7.5, join: 'round' }, z: 4
    }
  ]
});
</script>
</body>
</html>
